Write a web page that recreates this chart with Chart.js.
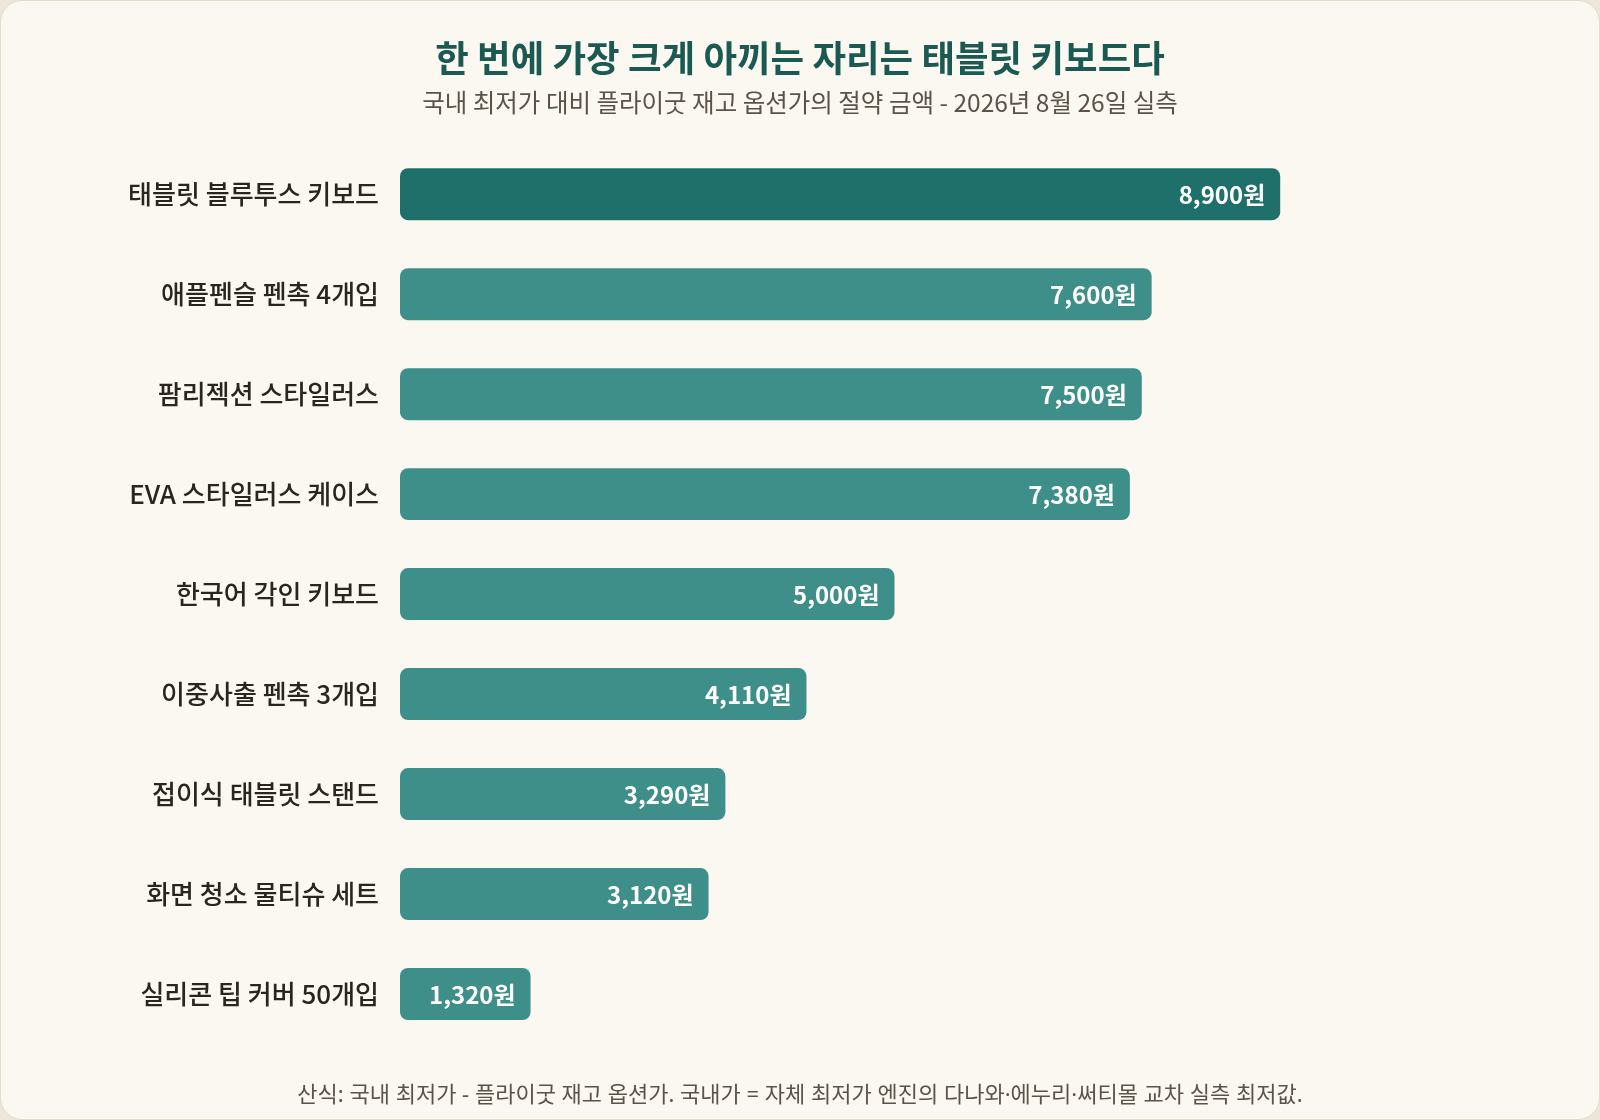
<!DOCTYPE html>
<html>
<head>
<meta charset="utf-8">
<script src="https://cdn.jsdelivr.net/npm/chart.js@4.4.1/dist/chart.umd.min.js"></script>
<style>
  html, body { margin: 0; padding: 0; background: #ebe6d8; }
  #card {
    position: absolute; left: 0; top: 0; width: 1598px; height: 1118px;
    background: #faf8f0; border: 1px solid #e2dccb; border-radius: 22px; overflow: hidden;
  }
  #wrap { position: absolute; left: -1px; top: -1px; width: 1600px; height: 1120px; }
</style>
</head>
<body>
<div id="card"><div id="wrap"><canvas id="c" width="1600" height="1120"></canvas></div></div>
<script>
const titleText = '한 번에 가장 크게 아끼는 자리는 태블릿 키보드다';
const subtitleText = '국내 최저가 대비 플라이굿 재고 옵션가의 절약 금액 - 2026년 8월 26일 실측';
const footerText = '산식: 국내 최저가 - 플라이굿 재고 옵션가. 국내가 = 자체 최저가 엔진의 다나와·에누리·써티몰 교차 실측 최저값.';
const categories = [
  '태블릿 블루투스 키보드',
  '애플펜슬 펜촉 4개입',
  '팜리젝션 스타일러스',
  'EVA 스타일러스 케이스',
  '한국어 각인 키보드',
  '이중사출 펜촉 3개입',
  '접이식 태블릿 스탠드',
  '화면 청소 물티슈 세트',
  '실리콘 팁 커버 50개입'
];
const savings = [8900, 7600, 7500, 7380, 5000, 4110, 3290, 3120, 1320];
const valueSuffix = '원';

const FONT = '"Noto Sans CJK KR", "Noto Sans", sans-serif';
const FOOT_FONT = '"Noto Sans", "Noto Sans CJK KR", sans-serif';
const barColors = savings.map((v, i) => i === 0 ? '#1f706a' : '#3e8e89');

const valueLabels = {
  id: 'valueLabels',
  afterDatasetsDraw(chart) {
    const ctx = chart.ctx;
    const meta = chart.getDatasetMeta(0);
    ctx.save();
    ctx.font = '700 24px ' + FONT;
    ctx.fillStyle = '#ffffff';
    ctx.textAlign = 'right';
    ctx.textBaseline = 'middle';
    meta.data.forEach((bar, i) => {
      const txt = savings[i].toLocaleString('en-US') + valueSuffix;
      ctx.fillText(txt, bar.x - 15, bar.y + 1);
    });
    ctx.restore();
  }
};

const footerPlugin = {
  id: 'footerNote',
  afterDraw(chart) {
    const ctx = chart.ctx;
    ctx.save();
    ctx.font = '400 22px ' + FOOT_FONT;
    ctx.fillStyle = '#5b534b';
    ctx.textAlign = 'center';
    ctx.textBaseline = 'middle';
    ctx.fillText(footerText, chart.width / 2, 1096);
    ctx.restore();
  }
};

new Chart(document.getElementById('c'), {
  type: 'bar',
  data: {
    labels: categories,
    datasets: [{
      data: savings,
      backgroundColor: barColors,
      borderRadius: 8,
      borderSkipped: false,
      barPercentage: 0.52,
      categoryPercentage: 1.0
    }]
  },
  options: {
    indexAxis: 'y',
    responsive: false,
    animation: false,
    devicePixelRatio: 1,
    layout: { padding: { top: 36, bottom: 76, left: 40, right: 40 } },
    plugins: {
      legend: { display: false },
      tooltip: { enabled: false },
      title: {
        display: true,
        text: titleText,
        color: '#1b5a52',
        font: { family: FONT, size: 36.5, weight: '700', lineHeight: 1.2 },
        padding: { top: 0, bottom: 8 }
      },
      subtitle: {
        display: true,
        text: subtitleText,
        color: '#5b534b',
        font: { family: FONT, size: 24.5, weight: '400', lineHeight: 1.2 },
        padding: { top: 0, bottom: 27 }
      }
    },
    scales: {
      x: {
        display: false,
        min: 0,
        max: 10000
      },
      y: {
        afterFit(scale) { scale.width = 360; },
        grid: { display: false, drawTicks: false },
        border: { display: false },
        ticks: {
          color: '#2a2520',
          padding: 21,
          font: { family: FONT, size: 26, weight: '500' }
        }
      },
      yRight: {
        axis: 'y',
        type: 'category',
        position: 'right',
        afterFit(scale) { scale.width = 171; },
        grid: { display: false, drawTicks: false },
        border: { display: false },
        ticks: { display: false }
      }
    }
  },
  plugins: [valueLabels, footerPlugin]
});
</script>
</body>
</html>
